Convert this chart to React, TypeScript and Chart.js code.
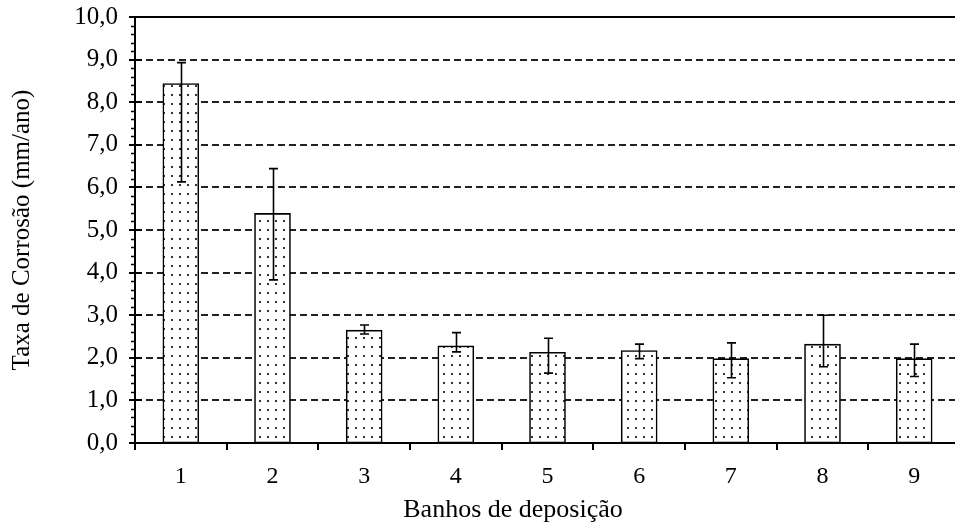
import React, { useEffect, useRef } from "react";
import { Chart, registerables } from "chart.js";

Chart.register(...registerables);

const categories = ["1", "2", "3", "4", "5", "6", "7", "8", "9"];
const corrosionRate = [8.44, 5.39, 2.65, 2.28, 2.13, 2.17, 1.98, 2.32, 1.98];
const errHigh = [8.93, 6.44, 2.77, 2.59, 2.46, 2.32, 2.35, 3.0, 2.32];
const errLow = [6.13, 3.83, 2.56, 2.14, 1.64, 1.98, 1.53, 1.79, 1.56];
const yMin = 0;
const yMax = 10;
const yStep = 1;
const yMinorStep = 0.2;
const yTitle = "Taxa de Corrosão (mm/ano)";
const xTitle = "Banhos de deposição";

const FONT = "'Liberation Serif', 'Times New Roman', serif";

function makePattern(): CanvasPattern | string {
  const c = document.createElement("canvas");
  c.width = 8;
  c.height = 9;
  const g = c.getContext("2d");
  if (!g) return "#fff";
  g.fillStyle = "#ffffff";
  g.fillRect(0, 0, 8, 9);
  g.fillStyle = "#333333";
  g.fillRect(3, 4, 2, 2);
  const p = g.createPattern(c, "repeat");
  return p || "#fff";
}

const decorPlugin = {
  id: "decor",
  beforeDatasetsDraw(chart: any) {
    const { ctx, chartArea } = chart;
    const y = chart.scales.y;
    ctx.save();
    ctx.strokeStyle = "#222";
    ctx.lineWidth = 2;
    ctx.setLineDash([7, 4]);
    for (let v = yMin + yStep; v < yMax; v += yStep) {
      const py = Math.round(y.getPixelForValue(v));
      ctx.beginPath();
      ctx.moveTo(chartArea.left, py);
      ctx.lineTo(chartArea.right, py);
      ctx.stroke();
    }
    ctx.restore();
  },
  afterDatasetsDraw(chart: any) {
    const { ctx, chartArea } = chart;
    const y = chart.scales.y;
    const x = chart.scales.x;
    const left = Math.round(chartArea.left);
    const top = Math.round(y.getPixelForValue(yMax));
    const bottom = Math.round(y.getPixelForValue(yMin));
    ctx.save();
    ctx.setLineDash([]);
    ctx.strokeStyle = "#000";

    // error bars
    ctx.lineWidth = 1.6;
    const n = corrosionRate.length;
    for (let i = 0; i < n; i++) {
      const cx = Math.round(x.getPixelForValue(i)) + 0.5;
      const hi = y.getPixelForValue(errHigh[i]);
      const lo = y.getPixelForValue(errLow[i]);
      ctx.beginPath();
      ctx.moveTo(cx, hi);
      ctx.lineTo(cx, lo);
      ctx.moveTo(cx - 4.5, hi);
      ctx.lineTo(cx + 4.5, hi);
      ctx.moveTo(cx - 4.5, lo);
      ctx.lineTo(cx + 4.5, lo);
      ctx.stroke();
    }

    ctx.lineWidth = 2;
    // top border
    ctx.beginPath();
    ctx.moveTo(left - 5, top);
    ctx.lineTo(chartArea.right, top);
    ctx.stroke();
    // bottom axis
    ctx.beginPath();
    ctx.moveTo(left - 5, bottom);
    ctx.lineTo(chartArea.right, bottom);
    ctx.stroke();
    // left axis
    ctx.beginPath();
    ctx.moveTo(left, top);
    ctx.lineTo(left, bottom + 7);
    ctx.stroke();

    // major y ticks
    for (let v = yMin; v <= yMax + 1e-9; v += yStep) {
      const py = Math.round(y.getPixelForValue(v));
      ctx.beginPath();
      ctx.moveTo(left - 6, py);
      ctx.lineTo(left + 7, py);
      ctx.stroke();
    }
    // minor y ticks
    ctx.lineWidth = 1.5;
    const steps = Math.round((yMax - yMin) / yMinorStep);
    for (let k = 0; k <= steps; k++) {
      if (k % Math.round(yStep / yMinorStep) === 0) continue;
      const v = yMin + k * yMinorStep;
      const py = Math.round(y.getPixelForValue(v)) + 0.5;
      ctx.beginPath();
      ctx.moveTo(left - 4, py);
      ctx.lineTo(left, py);
      ctx.stroke();
    }
    // x ticks between categories
    ctx.lineWidth = 2;
    const c0 = x.getPixelForValue(0);
    const c1 = x.getPixelForValue(1);
    const half = (c1 - c0) / 2;
    for (let i = 0; i < n - 1; i++) {
      const px = Math.round(x.getPixelForValue(i) + half);
      ctx.beginPath();
      ctx.moveTo(px, bottom);
      ctx.lineTo(px, bottom + 7);
      ctx.stroke();
    }

    // x-axis title
    ctx.fillStyle = "#000";
    ctx.font = `26px ${FONT}`;
    ctx.textAlign = "center";
    ctx.textBaseline = "middle";
    ctx.fillText(xTitle, 513, 510);
    ctx.restore();
  },
};

export default function App() {
  const ref = useRef<HTMLCanvasElement | null>(null);
  useEffect(() => {
    if (!ref.current) return;
    const pattern = makePattern();
    const chart = new Chart(ref.current, {
      type: "bar",
      data: {
        labels: categories,
        datasets: [
          {
            data: corrosionRate,
            backgroundColor: pattern as any,
            borderColor: "#000",
            borderWidth: 1.6,
            borderSkipped: false,
            barThickness: 36,
          },
        ],
      },
      options: {
        animation: false,
        responsive: false,
        maintainAspectRatio: false,
        layout: { padding: { top: 17, left: 0, right: 0, bottom: 0 } },
        plugins: {
          legend: { display: false },
          tooltip: { enabled: false },
        },
        scales: {
          x: {
            type: "category",
            grid: { display: false, drawTicks: false },
            border: { display: false },
            ticks: {
              color: "#000",
              padding: 19,
              font: { family: FONT, size: 24 },
              maxRotation: 0,
            },
            afterFit(scale: any) {
              scale.height = 84;
              scale.paddingLeft = 0;
              scale.paddingRight = 0;
            },
          },
          y: {
            min: yMin,
            max: yMax,
            grid: { display: false, drawTicks: false },
            border: { display: false },
            ticks: {
              stepSize: yStep,
              color: "#000",
              padding: 17,
              autoSkip: false,
              font: { family: FONT, size: 25 },
              callback: (v: any) => Number(v).toFixed(1).replace(".", ","),
            },
            title: {
              display: true,
              text: yTitle,
              color: "#000",
              font: { family: FONT, size: 25 },
              padding: { top: 7, bottom: 0 },
            },
            afterFit(scale: any) {
              scale.width = 135;
              scale.paddingTop = 0;
              scale.paddingBottom = 0;
            },
          },
        },
      },
      plugins: [decorPlugin],
    });
    return () => chart.destroy();
  }, []);
  return (
    <div
      style={{
        position: "fixed",
        left: 0,
        top: 0,
        width: 955,
        height: 527,
        overflow: "hidden",
        background: "#fff",
      }}
    >
      <canvas ref={ref} width={960} height={527} style={{ display: "block" }} />
    </div>
  );
}
